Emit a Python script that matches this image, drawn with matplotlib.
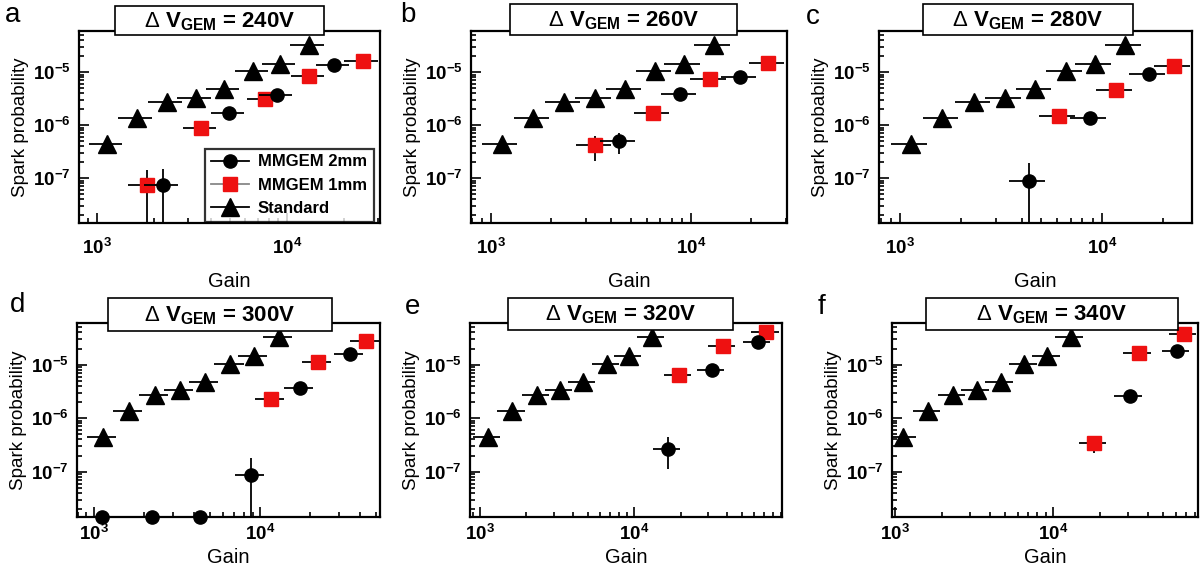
import numpy as np
import matplotlib
matplotlib.use("Agg")
import matplotlib.pyplot as plt
from matplotlib.lines import Line2D
from matplotlib.patches import Rectangle
from matplotlib.ticker import LogLocator, FuncFormatter, NullFormatter

plt.rcParams['font.family'] = ['Liberation Sans', 'DejaVu Sans']
plt.rcParams['mathtext.fontset'] = 'custom'
plt.rcParams['mathtext.rm'] = 'Liberation Sans'
plt.rcParams['mathtext.bf'] = 'Liberation Sans:bold'
plt.rcParams['mathtext.it'] = 'Liberation Sans:italic'

# ---------------- data ----------------
panel_letters = ["a", "b", "c", "d", "e", "f"]
dv_gem = [240, 260, 280, 300, 320, 340]

# Standard GEM (same in every panel)
std_gain = [1130, 1620, 2330, 3300, 4670, 6620, 9200, 13000]
std_prob = [4.4e-7, 1.35e-6, 2.7e-6, 3.3e-6, 4.8e-6, 1.05e-5, 1.45e-5, 3.3e-5]

# MMGEM 2mm
mm2_gain_240 = [2220, 4950, 8870, 17700]
mm2_prob_240 = [7.4e-8, 1.7e-6, 3.7e-6, 1.35e-5]
mm2_lo_240 = [1e-9, 1.5e-6, 3.3e-6, 1.25e-5]
mm2_hi_240 = [1.5e-7, 1.9e-6, 4.1e-6, 1.45e-5]

mm2_gain_260 = [4370, 8810, 17600]
mm2_prob_260 = [5.0e-7, 3.8e-6, 8.1e-6]
mm2_lo_260 = [2.8e-7, 3.4e-6, 7.4e-6]
mm2_hi_260 = [7.2e-7, 4.2e-6, 8.8e-6]

mm2_gain_280 = [4340, 8720, 17100]
mm2_prob_280 = [9.0e-8, 1.35e-6, 9.3e-6]
mm2_lo_280 = [1e-9, 1.15e-6, 8.5e-6]
mm2_hi_280 = [1.9e-7, 1.55e-6, 1.01e-5]

mm2_gain_300 = [1120, 2230, 4350, 8830, 17400, 34600]
mm2_prob_300 = [1.45e-8, 1.45e-8, 1.45e-8, 8.7e-8, 3.7e-6, 1.6e-5]
mm2_lo_300 = [1.45e-8, 1.45e-8, 1.45e-8, 1e-9, 3.3e-6, 1.5e-5]
mm2_hi_300 = [1.45e-8, 1.45e-8, 1.45e-8, 1.8e-7, 4.1e-6, 1.7e-5]

mm2_gain_320 = [16600, 32000, 63800]
mm2_prob_320 = [2.7e-7, 7.8e-6, 2.6e-5]
mm2_lo_320 = [1.1e-7, 7.2e-6, 2.45e-5]
mm2_hi_320 = [4.5e-7, 8.4e-6, 2.75e-5]

mm2_gain_340 = [30700, 61000]
mm2_prob_340 = [2.6e-6, 1.8e-5]
mm2_lo_340 = [2.4e-6, 1.7e-5]
mm2_hi_340 = [2.8e-6, 1.9e-5]

# MMGEM 1mm
mm1_gain_240 = [1830, 3530, 7660, 13100, 25000]
mm1_prob_240 = [7.5e-8, 8.7e-7, 3.1e-6, 8.4e-6, 1.65e-5]
mm1_lo_240 = [1e-9, 6.3e-7, 2.8e-6, 7.8e-6, 1.55e-5]
mm1_hi_240 = [1.45e-7, 1.1e-6, 3.4e-6, 9.0e-6, 1.75e-5]

mm1_gain_260 = [3310, 6460, 12400, 24300]
mm1_prob_260 = [4.2e-7, 1.7e-6, 7.4e-6, 1.5e-5]
mm1_lo_260 = [2.1e-7, 1.3e-6, 6.8e-6, 1.4e-5]
mm1_hi_260 = [6.2e-7, 2.1e-6, 8.0e-6, 1.6e-5]

mm1_gain_280 = [6110, 11700, 22800]
mm1_prob_280 = [1.5e-6, 4.7e-6, 1.3e-5]
mm1_lo_280 = [1.3e-6, 4.3e-6, 1.2e-5]
mm1_hi_280 = [1.7e-6, 5.1e-6, 1.4e-5]

mm1_gain_300 = [11600, 22200, 43500]
mm1_prob_300 = [2.3e-6, 1.1e-5, 2.8e-5]
mm1_lo_300 = [2.1e-6, 1.0e-5, 2.65e-5]
mm1_hi_300 = [2.5e-6, 1.2e-5, 2.95e-5]

mm1_gain_320 = [19600, 37800, 72000]
mm1_prob_320 = [6.5e-6, 2.2e-5, 4.0e-5]
mm1_lo_320 = [6.0e-6, 2.1e-5, 3.8e-5]
mm1_hi_320 = [7.0e-6, 2.3e-5, 4.2e-5]

mm1_gain_340 = [18200, 35000, 67500]
mm1_prob_340 = [3.5e-7, 1.67e-5, 3.7e-5]
mm1_lo_340 = [2.2e-7, 1.57e-5, 3.5e-5]
mm1_hi_340 = [4.6e-7, 1.77e-5, 3.9e-5]

gain_rel_err = 0.2
std_rel_yerr = 0.1

mm2_sets = [
    (mm2_gain_240, mm2_prob_240, mm2_lo_240, mm2_hi_240),
    (mm2_gain_260, mm2_prob_260, mm2_lo_260, mm2_hi_260),
    (mm2_gain_280, mm2_prob_280, mm2_lo_280, mm2_hi_280),
    (mm2_gain_300, mm2_prob_300, mm2_lo_300, mm2_hi_300),
    (mm2_gain_320, mm2_prob_320, mm2_lo_320, mm2_hi_320),
    (mm2_gain_340, mm2_prob_340, mm2_lo_340, mm2_hi_340),
]
mm1_sets = [
    (mm1_gain_240, mm1_prob_240, mm1_lo_240, mm1_hi_240),
    (mm1_gain_260, mm1_prob_260, mm1_lo_260, mm1_hi_260),
    (mm1_gain_280, mm1_prob_280, mm1_lo_280, mm1_hi_280),
    (mm1_gain_300, mm1_prob_300, mm1_lo_300, mm1_hi_300),
    (mm1_gain_320, mm1_prob_320, mm1_lo_320, mm1_hi_320),
    (mm1_gain_340, mm1_prob_340, mm1_lo_340, mm1_hi_340),
]

# ---------------- layout (pixels) ----------------
W, H = 1200, 579
axes_px = [(79, 380, 31, 223), (471, 787, 31, 223), (879, 1192, 31, 223),
           (77, 380, 323, 517), (470, 782, 323, 517), (892, 1198, 323, 517)]
xlims = [(804, 30800), (794, 30200), (785, 28000),
         (790, 52700), (861, 91000), (960, 83000)]
ylim = (1.42e-8, 6.0e-5)
title_px = [(115, 324, 6, 35), (510, 737, 4, 35), (923, 1133, 4, 35),
            (108, 332, 298, 331), (508, 733, 298, 330), (926, 1178, 298, 330)]
letter_px = [(5, 2), (400, 2), (806, 4), (10, 292), (405, 294), (818, 294)]
xtick_pad = [11, 11, 11, 5, 5, 5]
xlabel_pad = [10, 10, 10, 3, 3, 3]

fig = plt.figure(figsize=(W / 100, H / 100), dpi=100)

def fx(px):
    return px / W

def fy(py):
    return 1 - py / H

red = '#ee1111'

def fmt(v, pos):
    e = int(round(np.log10(v)))
    return r"$\mathbf{10^{%d}}$" % e

for i in range(6):
    l, r, t, b = axes_px[i]
    ax = fig.add_axes([fx(l), fy(b), fx(r - l), (b - t) / H])
    ax.set_xscale('log')
    ax.set_yscale('log')
    ax.set_xlim(*xlims[i])
    ax.set_ylim(*ylim)

    g = np.array(std_gain); p = np.array(std_prob)
    ax.errorbar(g, p, xerr=g * gain_rel_err, yerr=p * std_rel_yerr, fmt='^',
                color='black', ms=12.5, elinewidth=1.3, capsize=0, zorder=3)

    g, p, lo, hi = (np.array(a) for a in mm1_sets[i])
    ax.errorbar(g, p, xerr=g * gain_rel_err, yerr=[p - lo, hi - p], fmt='s',
                mfc=red, mec=red, ecolor='black', ms=9.5, elinewidth=1.3,
                capsize=0, zorder=4)

    g, p, lo, hi = (np.array(a) for a in mm2_sets[i])
    ax.errorbar(g, p, xerr=g * gain_rel_err, yerr=[p - lo, hi - p], fmt='none',
                ecolor='black', elinewidth=1.3, capsize=0, zorder=5)
    ax.plot(g, p, 'o', color='black', ms=9.5, zorder=6, clip_on=False)

    for s in ax.spines.values():
        s.set_linewidth(1.6)
    ax.xaxis.set_major_locator(LogLocator(base=10, numticks=10))
    ax.xaxis.set_minor_locator(LogLocator(base=10, subs=np.arange(2, 10), numticks=20))
    ax.yaxis.set_major_locator(LogLocator(base=10, numticks=10))
    ax.yaxis.set_minor_locator(LogLocator(base=10, subs=np.arange(2, 10), numticks=20))
    ax.xaxis.set_major_formatter(FuncFormatter(fmt))
    ax.yaxis.set_major_formatter(FuncFormatter(fmt))
    ax.xaxis.set_minor_formatter(NullFormatter())
    ax.yaxis.set_minor_formatter(NullFormatter())
    ax.tick_params(which='both', direction='in', top=False, right=False,
                   labelsize=13.5, width=1.2)
    ax.tick_params(which='major', length=7)
    ax.tick_params(which='minor', length=3.5)
    ax.tick_params(axis='x', which='major', pad=xtick_pad[i])
    ax.tick_params(axis='y', which='major', pad=6)
    ax.set_xlabel('Gain', fontsize=14.5, labelpad=xlabel_pad[i])
    ax.set_ylabel('Spark probability', fontsize=13.5, labelpad=3)

    # title box
    tl, tr, tt, tb = title_px[i]
    rect = Rectangle((fx(tl), fy(tb)), fx(tr - tl), (tb - tt) / H,
                     transform=fig.transFigure, facecolor='white',
                     edgecolor='black', linewidth=1.2, zorder=10)
    fig.add_artist(rect)
    fig.text(fx((tl + tr) / 2), fy((tt + tb) / 2 + 1),
             r"$\Delta$ V$_{\mathbf{GEM}}$ = %dV" % dv_gem[i],
             ha='center', va='center', fontsize=16, fontweight='bold',
             zorder=11)

    lx, ly = letter_px[i]
    fig.text(fx(lx), fy(ly), panel_letters[i], ha='left', va='top',
             fontsize=20, zorder=11)

    if i == 0:
        handles = [
            Line2D([], [], color='black', marker='o', ms=9.5, lw=1.3),
            Line2D([], [], color='#888888', marker='s', ms=9.5, lw=1.3,
                   mfc=red, mec=red),
            Line2D([], [], color='black', marker='^', ms=12.5, lw=1.3),
        ]
        labels = ['MMGEM 2mm', 'MMGEM 1mm', 'Standard']
        leg = ax.legend(handles, labels, loc='lower left',
                        bbox_to_anchor=(fx(205), fy(222), fx(374 - 205), (222 - 130) / H),
                        bbox_transform=fig.transFigure, mode='expand',
                        frameon=True, fancybox=False, handlelength=2.3,
                        borderpad=0.35, labelspacing=0.5, handletextpad=0.5,
                        prop={'size': 12, 'weight': 'bold'}, borderaxespad=0)
        leg.get_frame().set_edgecolor('black')
        leg.get_frame().set_linewidth(1.6)
        leg.set_zorder(20)

fig.savefig('out.png', dpi=100)
